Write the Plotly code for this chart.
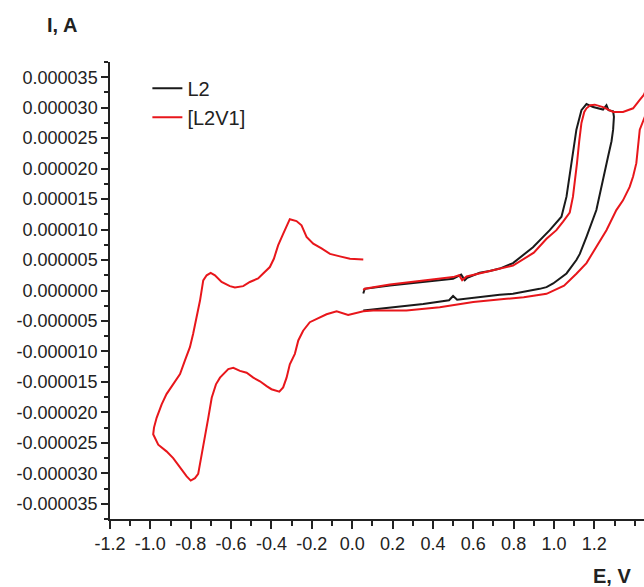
import plotly.graph_objects as go

# ---- data (E in V, I in microamps; converted to A below) ----
l2_E = [0.055, 0.058, 0.062, 0.187, 0.352, 0.434, 0.500, 0.540, 0.558, 0.570, 0.632, 0.682, 0.731, 0.797,
        0.896, 0.979, 1.037, 1.062, 1.086, 1.111, 1.136, 1.161, 1.194, 1.243, 1.260, 1.270, 1.293,
        1.297, 1.293, 1.285, 1.268, 1.243, 1.210, 1.161, 1.128, 1.111, 1.062, 0.996, 0.963, 0.929,
        0.797, 0.731, 0.632, 0.520, 0.500, 0.480, 0.352, 0.187, 0.055]
l2_I = [-0.5, 0.1, 0.27, 0.82, 1.37, 1.6, 1.92, 2.6, 1.7, 2.1, 2.9, 3.2, 3.6, 4.5,
        7.1, 9.9, 12.1, 15.4, 20.9, 26.4, 29.6, 30.6, 30.1, 29.7, 30.4, 29.6, 29.4,
        28.5, 26.4, 24.5, 22.0, 18.1, 13.2, 8.8, 6.0, 5.0, 2.8, 1.15, 0.55, 0.27,
        -0.55, -0.7, -1.1, -1.5, -0.9, -1.6, -2.2, -2.75, -3.3]

l2v1_E = [0.055, 0.062, 0.187, 0.352, 0.434, 0.500, 0.530, 0.545, 0.567, 0.632, 0.682, 0.797, 0.900,
          0.963, 1.012, 1.045, 1.078, 1.094, 1.104, 1.114, 1.125, 1.136, 1.150, 1.161, 1.180, 1.202,
          1.243, 1.293, 1.342, 1.392, 1.425, 1.445, 1.470, 1.490,
          1.470, 1.450, 1.425, 1.408, 1.392, 1.375, 1.342, 1.309, 1.260, 1.210, 1.161, 1.111, 1.050,
          0.963, 0.850, 0.764, 0.600, 0.434, 0.269, 0.104, 0.055, -0.020, -0.061, -0.077, -0.127,
          -0.176, -0.210, -0.243, -0.267, -0.284, -0.309, -0.325, -0.342, -0.361, -0.400, -0.424,
          -0.457, -0.490, -0.523, -0.556, -0.589, -0.614, -0.655, -0.675, -0.696, -0.713, -0.730,
          -0.746, -0.763, -0.779, -0.800, -0.820, -0.845, -0.887, -0.920, -0.961, -0.986,
          -0.982, -0.969, -0.944, -0.920, -0.887, -0.853, -0.829, -0.804, -0.788, -0.771, -0.754,
          -0.738, -0.721, -0.701, -0.680, -0.647, -0.606, -0.581, -0.540, -0.507, -0.466, -0.441,
          -0.408, -0.388, -0.367, -0.342, -0.325, -0.309, -0.276, -0.251, -0.226, -0.193, -0.152,
          -0.110, -0.061, -0.011, 0.055]
l2v1_I = [0.1, 0.3, 0.99, 1.6, 1.9, 2.2, 2.5, 1.7, 2.3, 2.75, 3.2, 4.1, 6.2,
          8.5, 9.9, 11.3, 12.8, 15.4, 18.0, 20.9, 24.5, 27.5, 29.3, 29.9, 30.4, 30.5,
          30.1, 29.3, 29.3, 29.9, 31.3, 32.1, 34.0, 35.5,
          31.0, 28.5, 26.4, 20.9, 18.7, 17.0, 14.8, 13.2, 9.9, 7.1, 4.5, 2.75, 0.8,
          -0.55, -1.1, -1.37, -1.9, -2.75, -3.3, -3.3, -3.4, -4.0, -3.6, -3.4, -3.9,
          -4.6, -5.2, -6.6, -8.2, -10.4, -12.1, -14.3, -15.9, -16.6, -16.2, -15.7,
          -14.9, -14.3, -13.5, -13.2, -12.7, -12.9, -14.3, -15.4, -17.6, -20.9, -24.2,
          -27.5, -30.1, -30.8, -31.2, -30.5, -29.4, -27.5, -26.4, -25.3, -23.6,
          -22.5, -20.9, -18.7, -17.0, -15.4, -13.7, -11.5, -9.3, -7.1, -4.4, -1.65,
          1.65, 2.5, 2.9, 2.5, 1.4, 0.71, 0.49, 0.71, 1.4, 1.98, 2.8,
          3.85, 5.2, 7.4, 9.3, 10.7, 11.7, 11.4, 10.7, 8.8, 7.7, 6.9,
          6.0, 5.6, 5.2, 5.1]

x_ticks = [-1.2, -1.0, -0.8, -0.6, -0.4, -0.2, 0.0, 0.2, 0.4, 0.6, 0.8, 1.0, 1.2]
x_ticktext = ["-1.2", "-1.0", "-0.8", "-0.6", "-0.4", "-0.2", "0.0", "0.2", "0.4", "0.6", "0.8", "1.0", "1.2"]
y_ticks = [35e-6, 30e-6, 25e-6, 20e-6, 15e-6, 10e-6, 5e-6, 0.0, -5e-6, -10e-6, -15e-6, -20e-6, -25e-6, -30e-6, -35e-6]
y_ticktext = ["0.000035", "0.000030", "0.000025", "0.000020", "0.000015", "0.000010", "0.000005", "0.000000",
              "-0.000005", "-0.000010", "-0.000015", "-0.000020", "-0.000025", "-0.000030", "-0.000035"]

scale = 1e-6
fig = go.Figure()
fig.add_trace(go.Scatter(x=l2_E, y=[v * scale for v in l2_I], mode="lines", name="L2",
                         line=dict(color="#1a1a1a", width=2)))
fig.add_trace(go.Scatter(x=l2v1_E, y=[v * scale for v in l2v1_I], mode="lines", name="[L2V1]",
                         line=dict(color="#e8161b", width=2)))

font = "Liberation Sans, Arial, sans-serif"
fig.update_layout(
    width=644, height=587,
    margin=dict(l=110, r=0, t=62, b=68),
    paper_bgcolor="white", plot_bgcolor="white",
    font=dict(family=font, size=18, color="#222"),
    showlegend=True,
    legend=dict(x=0.07, y=0.985, xanchor="left", yanchor="top",
                font=dict(size=20, color="#222"), bgcolor="rgba(0,0,0,0)",
                itemwidth=30, tracegroupgap=0),
    xaxis=dict(range=[-1.2, 1.446], tickmode="array", tickvals=x_ticks, ticktext=x_ticktext,
               ticks="outside", ticklen=8, tickwidth=1.5, tickcolor="#222",
               showline=True, linecolor="#222", linewidth=1.5, showgrid=False, zeroline=False,
               minor=dict(dtick=0.1, tick0=0, ticks="outside", ticklen=5, tickwidth=1.5, tickcolor="#222", showgrid=False),
               tickfont=dict(size=18)),
    yaxis=dict(range=[-37.5e-6, 37.5e-6], tickmode="array", tickvals=y_ticks, ticktext=y_ticktext,
               ticks="outside", ticklen=7, tickwidth=1.5, tickcolor="#222",
               showline=True, linecolor="#222", linewidth=1.5, showgrid=False, zeroline=False,
               minor=dict(dtick=2.5e-6, tick0=0, ticks="outside", ticklen=4, tickwidth=1.5, tickcolor="#222", showgrid=False),
               tickfont=dict(size=18)),
    annotations=[
        dict(text="<b>I, A</b>", xref="paper", yref="paper", x=(62 - 110) / 534, y=(519 - 25) / 457,
             xanchor="center", yanchor="middle", showarrow=False, font=dict(size=20, color="#222")),
        dict(text="<b>E, V</b>", xref="paper", yref="paper", x=(612 - 110) / 534, y=(519 - 576) / 457,
             xanchor="center", yanchor="middle", showarrow=False, font=dict(size=20, color="#222")),
    ],
)

fig.write_html("out.html", config={"displayModeBar": False},
               post_script="document.body.style.margin='0';document.body.style.padding='0';")
